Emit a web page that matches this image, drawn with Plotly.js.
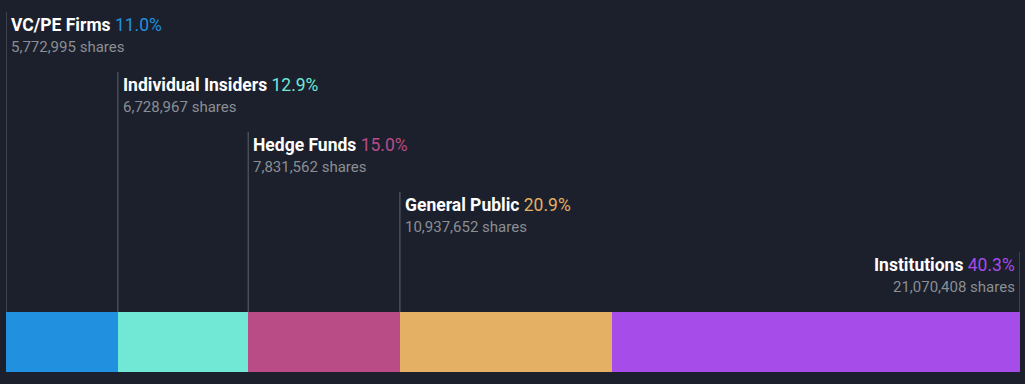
<!DOCTYPE html>
<html>
<head>
<meta charset="utf-8">
<script src="https://cdn.plot.ly/plotly-3.0.1.min.js"></script>
<style>
html,body{margin:0;padding:0;background:#1b202c;}
#chart{width:1025px;height:384px;}
</style>
</head>
<body>
<div id="chart"></div>
<script>
const categories = ["VC/PE Firms", "Individual Insiders", "Hedge Funds", "General Public", "Institutions"];
const percents = ["11.0%", "12.9%", "15.0%", "20.9%", "40.3%"];
const shares = [5772995, 6728967, 7831562, 10937652, 21070408];
const colors = ["#2190de", "#71e8d5", "#b94b87", "#e4b064", "#a64ce8"];

const total = shares.reduce((a, b) => a + b, 0);
const plotH = 372, barPx = 60;
const yMax = plotH / barPx;
const pxToY = p => (plotH - p) / barPx;

const traces = categories.map((c, i) => ({
  type: "bar",
  orientation: "h",
  y: [0.5],
  x: [shares[i]],
  width: [1],
  name: c,
  marker: { color: colors[i], line: { width: 0 } },
  hoverinfo: "skip"
}));

const shapes = [];
const annotations = [];
let cum = 0;
categories.forEach((c, i) => {
  const last = i === categories.length - 1;
  const lineX = last ? total : cum;
  const top = 12 + 60 * i;
  shapes.push({
    type: "line", xref: "x", yref: "y",
    x0: lineX, x1: lineX, y0: 1, y1: pxToY(top),
    line: { color: "#5f626a", width: 1 }
  });
  const fmt = shares[i].toLocaleString("en-US");
  annotations.push({
    xref: "x", yref: "y", x: lineX, y: pxToY(top + 13),
    xanchor: last ? "right" : "left", yanchor: "middle",
    xshift: last ? -3 : 3,
    showarrow: false,
    text: "<b>" + c + "</b> <span style='color:" + colors[i] + "'>" + percents[i] + "</span>",
    font: { family: "Roboto, sans-serif", size: 17.5, color: "#ffffff" }
  });
  annotations.push({
    xref: "x", yref: "y", x: lineX, y: pxToY(top + 35),
    xanchor: last ? "right" : "left", yanchor: "middle",
    xshift: last ? -3 : 3,
    showarrow: false,
    text: fmt + " shares",
    font: { family: "Roboto, sans-serif", size: 15, color: "#8b8e94" }
  });
  cum += shares[i];
});

const layout = {
  width: 1025, height: 384,
  margin: { l: 6, r: 5, t: 0, b: 12, pad: 0 },
  paper_bgcolor: "#1b202c",
  plot_bgcolor: "#1b202c",
  barmode: "stack",
  bargap: 0,
  showlegend: false,
  xaxis: { range: [0, total], visible: false, fixedrange: true },
  yaxis: { range: [0, yMax], visible: false, fixedrange: true },
  shapes: shapes,
  annotations: annotations
};

Plotly.newPlot("chart", traces, layout, { displayModeBar: false, staticPlot: true });
</script>
</body>
</html>
